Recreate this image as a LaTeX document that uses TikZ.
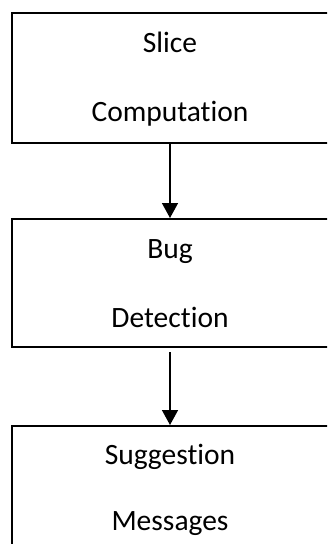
\documentclass[tikz,border=0pt]{standalone}
\usepackage{fontspec}
\setmainfont{Carlito}[Ligatures=NoCommon]
\usetikzlibrary{arrows.meta}
\tikzset{
  box/.style={draw=black, line width=2pt, fill=white, minimum width=318pt, inner sep=0pt},
  lbl/.style={font=\fontsize{29.5}{34}\selectfont, inner sep=0pt, anchor=base},
  conn/.style={line width=1.5pt, -{Triangle[length=15pt,width=16pt]}}
}
\begin{document}
\begin{tikzpicture}[x=1pt,y=-1pt]
\useasboundingbox (0,0) rectangle (327,544);
\clip (0,0) rectangle (327,544);
\node[box, minimum height=130pt] (b1) at (171,78) {};
\node[box, minimum height=128pt] (b2) at (171,283) {};
\node[box, minimum height=140pt] (b3) at (171,496) {};
\node[lbl] (t1a) at (170,52) {Slice};
\node[lbl] (t1b) at (170,121) {Computation};
\node[lbl] (t2a) at (170,258) {Bug};
\node[lbl] (t2b) at (170,327) {Detection};
\node[lbl] (t3a) at (170,464) {Suggestion};
\node[lbl] (t3b) at (170,530) {Messages};
\draw[conn] (b1.south -| 170,0) -- (b2.north -| 170,0);
\draw[conn] ([yshift=-4pt]b2.south -| 170,0) -- (b3.north -| 170,0);
\end{tikzpicture}
\end{document}
